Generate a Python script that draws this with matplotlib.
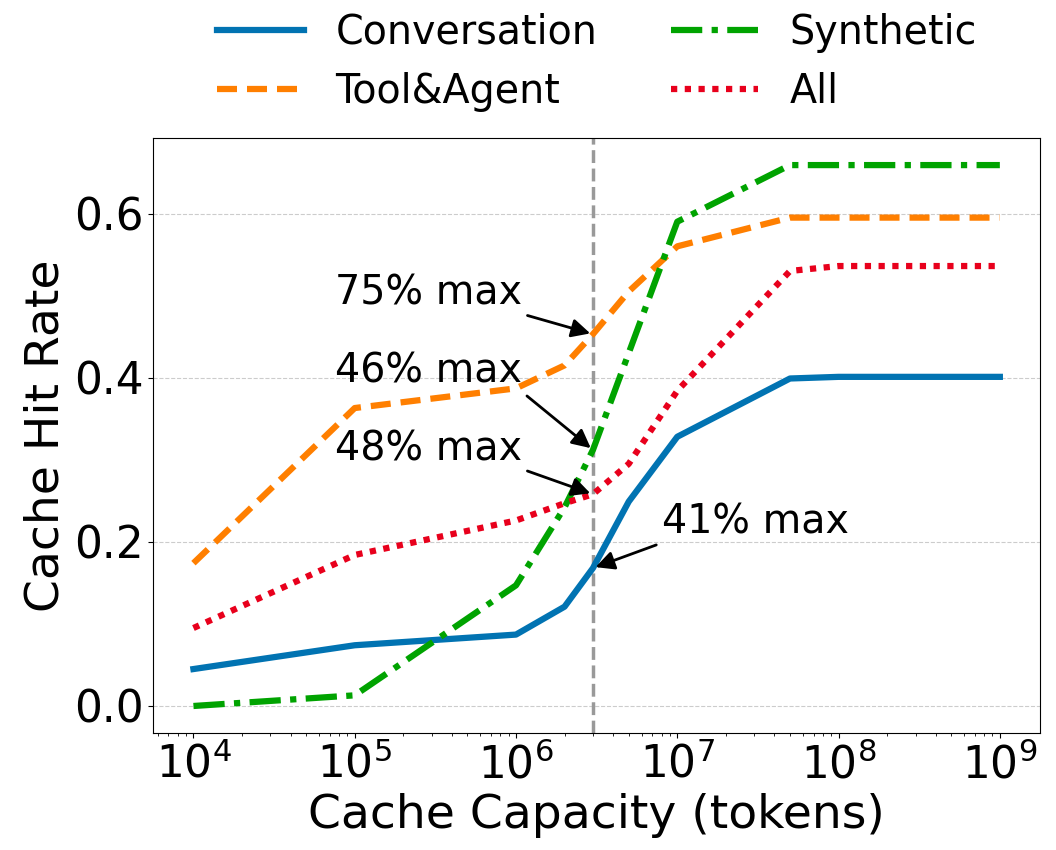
import matplotlib
matplotlib.use("Agg")
import matplotlib.pyplot as plt

# --- data ---
capacity = [1e4, 1e5, 1e6, 2e6, 3e6, 5e6, 1e7, 5e7, 1e8, 1e9]
conversation = [0.045, 0.074, 0.087, 0.121, 0.168, 0.249, 0.328, 0.399, 0.401, 0.401]
tool_agent = [0.174, 0.363, 0.387, 0.415, 0.453, 0.505, 0.560, 0.595, 0.595, 0.595]
synthetic = [0.000, 0.013, 0.147, 0.242, 0.312, 0.430, 0.590, 0.659, 0.659, 0.659]
all_wl = [0.095, 0.184, 0.226, 0.247, 0.258, 0.295, 0.384, 0.530, 0.536, 0.536]

cutoff = 3e6
notes = ["75% max", "46% max", "48% max", "41% max"]
note_targets = [0.453, 0.312, 0.258, 0.168]

fig = plt.figure(figsize=(10.56, 8.5), dpi=100)
ax = fig.add_axes([0.145, 0.1376, 0.84, 0.7])

ax.plot(capacity, conversation, color="#0173B2", lw=4.5, ls="-", label="Conversation")
ax.plot(capacity, tool_agent, color="#FF7F00", lw=4.5, ls=(0, (3.2, 1.6)), label="Tool&Agent")
ax.plot(capacity, synthetic, color="#00A300", lw=4.5, ls=(0, (5, 1.5, 1, 1.5)), label="Synthetic")
ax.plot(capacity, all_wl, color="#E8001C", lw=4.5, ls=(0, (1, 1.2)), label="All")

ax.axvline(cutoff, color="#999999", lw=2.5, ls="--", zorder=1)

ax.set_xscale("log")
ax.grid(axis="y", ls="--", color="#cccccc", lw=0.8)
ax.set_axisbelow(True)
ax.set_yticks([0.0, 0.2, 0.4, 0.6])
ax.tick_params(labelsize=31.5)
ax.set_xlabel("Cache Capacity (tokens)", fontsize=34)
ax.set_ylabel("Cache Hit Rate", fontsize=34)

# arrows leave from the lower corner of each note
left_arrow = dict(arrowstyle="-|>", color="black", lw=2, mutation_scale=28, relpos=(1, 0))
right_arrow = dict(arrowstyle="-|>", color="black", lw=2, mutation_scale=28, relpos=(0, 0))
ax.annotate(notes[0], xy=(cutoff, note_targets[0]), xytext=(1.09e6, 0.502),
            ha="right", va="center", fontsize=28.5, arrowprops=left_arrow)
ax.annotate(notes[1], xy=(cutoff, note_targets[1]), xytext=(1.09e6, 0.407),
            ha="right", va="center", fontsize=28.5, arrowprops=left_arrow)
ax.annotate(notes[2], xy=(cutoff, note_targets[2]), xytext=(1.09e6, 0.313),
            ha="right", va="center", fontsize=28.5, arrowprops=left_arrow)
ax.annotate(notes[3], xy=(cutoff, note_targets[3]), xytext=(8.0e6, 0.223),
            ha="left", va="center", fontsize=28.5, arrowprops=right_arrow)

ax.legend(loc="lower center", bbox_to_anchor=(0.5, 1.0), ncol=2, frameon=False,
          fontsize=28.5, handlelength=2.2, columnspacing=1.85, labelspacing=0.5,
          borderaxespad=0.25)

fig.savefig("out.png", dpi=100)
